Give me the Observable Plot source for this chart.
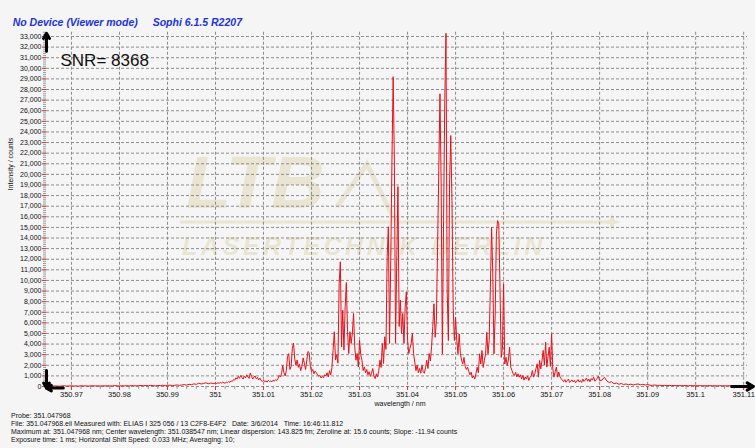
<!DOCTYPE html>
<html><head><meta charset="utf-8">
<script src="https://cdn.jsdelivr.net/npm/d3@7"></script>
<script src="https://cdn.jsdelivr.net/npm/@observablehq/plot@0.6"></script>
<style>
html,body{margin:0;padding:0;background:#f5f5f5;width:755px;height:448px;overflow:hidden;font-family:"Liberation Sans",Arial,sans-serif;}
#wrap{position:relative;width:755px;height:448px;}
#wm{position:absolute;left:0;top:0;width:755px;height:448px;filter:blur(0.7px);}
#title{position:absolute;top:15px;left:0;height:14px;width:755px;color:#2233dd;font-weight:bold;font-style:italic;font-size:10.5px;line-height:14px;white-space:pre;}
#title span{position:absolute;top:0}
#chart{position:absolute;left:0;top:28px;}
#caption{position:absolute;left:11px;top:412px;font-size:7px;line-height:7.9px;white-space:pre;color:#111;}
</style></head>
<body><div id="wrap">
<div id="wm"><svg width="755" height="448" style="position:absolute;left:0;top:0">
<g fill="#e9e5d2" font-family="Liberation Sans, Arial, sans-serif" font-weight="bold" font-style="italic">
<text x="186" y="208" font-size="74">LTB</text>
<text x="182" y="255" font-size="25" letter-spacing="3.6">LASERTECHNIK BERLIN</text>
</g>
<polyline points="337,207 367,164 395,221" fill="none" stroke="#e9e5d2" stroke-width="5"/>
<line x1="180" y1="222" x2="612" y2="222" stroke="#e9e5d2" stroke-width="3"/>
<path d="M612,213 L615,222 L612,231 L609,222 Z M603,222 L612,219 L621,222 L612,225 Z" fill="#e9e5d2"/>
</svg></div>
<div id="title"><span style="left:12.7px"></span><span style="left:152.7px"></span></div>
<div id="chart"></div>
<div id="caption"></div>
</div>
<script>
// ---------- data ----------
const titleParts = ["No Device (Viewer mode)", "Sophi 6.1.5 R2207"];
const snrLabel = "SNR= 8368";
const yTitle = "Intensity / counts";
const xTitle = "wavelength / nm";
const captionLines = [
  "Probe: 351.047968",
  "File: 351.047968.eli Measured with: ELIAS I 325 056 / 13 C2F8-E4F2   Date: 3/6/2014   Time: 16:46:11.812",
  "Maximum at: 351.047968 nm; Center wavelength: 351.038547 nm; Linear dispersion: 143.825 fm; Zeroline at: 15.6 counts; Slope: -11.94 counts",
  "Exposure time: 1 ms; Horizontal Shift Speed: 0.033 MHz; Averaging: 10;"
];

const yTicks = [0,1000,2000,3000,4000,5000,6000,7000,8000,9000,10000,11000,12000,13000,14000,15000,16000,17000,18000,19000,20000,21000,22000,23000,24000,25000,26000,27000,28000,29000,30000,31000,32000,33000];
const xTicks = [350.97,350.98,350.99,351,351.01,351.02,351.03,351.04,351.05,351.06,351.07,351.08,351.09,351.1,351.11];
const xTickLabels = ["350.97","350.98","350.99","351","351.01","351.02","351.03","351.04","351.05","351.06","351.07","351.08","351.09","351.1","351.11"];

// wavelength offsets from 351 nm, in pm
const leftPm = [-34.5,-34,-33.5,-33,-32.5,-32,-31.5,-31,-30.5,-30,
-29.5,-29,-28.5,-28,-27.5,-27,-26.5,-26,-25.5,-25,
-24.5,-24,-23.5,-23,-22.5,-22,-21.5,-21,-20.5,-20,
-19.5,-19,-18.5,-18,-17.5,-17,-16.5,-16,-15.5,-15,
-14.5,-14,-13.5,-13,-12.5,-12,-11.5,-11,-10.5,-10,
-9.5,-9,-8.5,-8,-7.5,-7,-6.5,-6,-5.5,-5,
-4.5,-4,-3.5,-3,-2.5,-2,-1.5,-1,-0.5];
const leftCounts = [50,30,60,40,30,50,70,40,50,60,
40,60,30,70,50,60,40,60,70,50,
60,40,70,50,80,50,60,90,60,50,
70,60,80,50,90,70,60,80,100,70,
90,70,110,80,60,100,80,120,70,90,
130,90,110,150,100,140,180,130,210,170,
250,200,310,240,280,350,260,320,290];

const peakPm = [0,0.25,0.5,0.75,1,1.25,1.5,1.75,2,2.25,2.5,2.75,3,3.25,3.5,3.75,4,4.25,4.5,4.75,
5,5.25,5.5,5.75,6,6.25,6.5,6.75,7,7.25,7.5,7.75,8,8.25,8.5,8.75,9,9.25,9.5,9.75,
10,10.25,10.5,10.75,11,11.25,11.5,11.75,12,12.25,12.5,12.75,13,13.25,13.5,13.75,14,14.25,14.5,14.75,
15,15.25,15.5,15.75,16,16.25,16.5,16.75,17,17.25,17.5,17.75,18,18.25,18.5,18.75,19,19.25,19.5,19.75,
20,20.25,20.5,20.75,21,21.25,21.5,21.75,22,22.25,22.5,22.75,23,23.25,23.5,23.75,24,24.25,24.5,24.75,
25,25.25,25.5,25.75,26,26.25,26.5,26.75,27,27.25,27.5,27.75,28,28.25,28.5,28.75,29,29.25,29.5,29.75,
30,30.25,30.5,30.75,31,31.25,31.5,31.75,32,32.25,32.5,32.75,33,33.25,33.5,33.75,34,34.25,34.5,34.75,
35,35.25,35.5,35.75,36,36.25,36.5,36.75,37,37.25,37.5,37.75,38,38.25,38.5,38.75,39,39.25,39.5,39.75,
40,40.25,40.5,40.75,41,41.25,41.5,41.75,42,42.25,42.5,42.75,43,43.25,43.5,43.75,44,44.25,44.5,44.75,
45,45.25,45.5,45.75,46,46.25,46.5,46.75,47,47.25,47.5,47.75,48,48.25,48.5,48.75,49,49.25,49.5,49.75,
50,50.25,50.5,50.75,51,51.25,51.5,51.75,52,52.25,52.5,52.75,53,53.25,53.5,53.75,54,54.25,54.5,54.75,
55,55.25,55.5,55.75,56,56.25,56.5,56.75,57,57.25,57.5,57.75,58,58.25,58.5,58.75,59,59.25,59.5,59.75,
60,60.25,60.5,60.75,61,61.25,61.5,61.75,62,62.25,62.5,62.75,63,63.25,63.5,63.75,64,64.25,64.5,64.75,
65,65.25,65.5,65.75,66,66.25,66.5,66.75,67,67.25,67.5,67.75,68,68.25,68.5,68.75,69,69.25,69.5,69.75,
70,70.25,70.5,70.75,71,71.25,71.5,71.75,72,72.25,72.5,72.75,73,73.25,73.5,73.75,74,74.25,74.5,74.75,
75,75.25,75.5,75.75,76,76.25,76.5,76.75,77,77.25,77.5,77.75,78,78.25,78.5,78.75,79,79.25,79.5,79.75,
80];
const peakCounts = [
320,280,350,300,380,330,410,360,300,420,380,450,400,
520,480,650,600,820,700,950,780,1050,850,700,980,820,1100,900,760,1270,
950,700,880,1000,720,850,620,780,
560,480,600,450,520,420,580,470,530,440,600,500,640,560,720,
1050,900,1200,2000,1300,1000,1500,2800,3100,1600,1900,3600,
4090,2600,2000,2500,1800,2100,1500,1900,2700,2200,1600,2400,3300,3200,1900,
1400,1600,1200,1450,1300,1100,950,1050,800,950,820,1100,
1000,1300,900,1500,1100,1800,3500,5160,2500,3000,2200,9720,11760,
3740,7200,3430,7500,9800,5200,3110,5160,4060,5000,
6890,3740,2480,3110,1850,4370,3000,2480,1500,1850,
1300,1600,1100,1400,950,1300,1700,1000,750,1200,900,1500,
2480,1800,4060,2170,4690,3500,12230,15060,
4060,11920,21350,29210,21350,4060,11920,18840,5660,
8150,5000,6890,4060,7500,8930,4370,3110,3600,4060,5000,
3110,2300,1500,2000,1300,1700,1250,2000,1400,1250,1800,2480,1700,3110,2400,3740,
5660,7800,4640,6200,13130,20360,27590,18790,3080,15640,26960,33300,9000,
4330,19100,23660,17530,7470,
4330,6520,4330,3080,4950,3080,
2500,2120,2750,1900,1600,1830,1400,1100,1350,800,1000,700,1200,1820,1300,
3080,2120,3390,1800,2440,3080,5110,3080,4330,
9350,15010,10610,3080,6840,14380,15640,15330,9350,
2750,3500,9660,2120,2750,1980,2500,3710,1820,1510,1200,
1040,1350,900,1200,880,1100,700,1040,600,900,700,1000,570,850,1000,
1510,880,1200,1700,2140,880,2460,1670,2450,3400,2000,4180,1830,2800,3710,1900,4970,1670,
880,1400,1830,880,1360,900,730,600,450,650,400,550,700,380,520,620,430,
580,350,500,650,420,560,380,700,480,620,800,500,700,450,750,600,880,500,650,750,980,560];

const tailPm = [80.5,81,81.5,82,82.5,83,83.5,84,84.5,85,
85.5,86,86.5,87,87.5,88,88.5,89,89.5,90,
90.5,91,91.5,92,92.5,93,93.5,94,94.5,95,
95.5,96,96.5,97,97.5,98,98.5,99,99.5,100,
100.5,101,101.5,102,102.5,103,103.5,104,104.5,105,
105.5,106,106.5,107,107.5,108,108.5,109,109.5,110];
const tailCounts = [600,880,520,380,450,260,330,210,280,190,
240,170,220,150,200,240,160,210,140,180,
120,110,140,100,115,90,105,95,85,100,
80,90,85,75,90,80,70,85,75,80,
70,80,75,65,80,70,75,65,70,75,
65,70,60,70,65,60,70,60,65,60];

// ---------- build ----------
function zipSeg(pm, counts, name) {
  if (pm.length !== counts.length) throw new Error(name + " length mismatch " + pm.length + " vs " + counts.length);
  return pm.map((p, i) => ({wl: 351 + p / 1000, counts: counts[i]}));
}
const spectrum = [
  ...zipSeg(leftPm, leftCounts, "left"),
  ...zipSeg(peakPm, peakCounts, "peak"),
  ...zipSeg(tailPm, tailCounts, "tail")
];

const xDomain = [350.9648, 351.1108];
const yDomain = [0, 33400];
const yMinor = d3.range(0, 33401, 200);
const xMinor = d3.range(350.966, 351.1109, 0.002);

const axisArrows = [
  {x1: xDomain[0], y1: 31600, x2: xDomain[0], y2: 33300},
  {x1: 351.1075, y1: 0, x2: 351.11205, y2: 0},
  {x1: xDomain[0], y1: 1500, x2: xDomain[0], y2: -150},
  {x1: 350.9683, y1: -150, x2: xDomain[0], y2: -150}
];

const font = "Liberation Sans, Arial, sans-serif";
const plot = Plot.plot({
  width: 755, height: 380,
  marginLeft: 46, marginRight: 8, marginTop: 3.75, marginBottom: 22,
  style: {background: "transparent", fontFamily: font, fontSize: "7px", color: "#111", overflow: "visible"},
  x: {domain: xDomain},
  y: {domain: yDomain},
  marks: [
    Plot.gridY({ticks: yTicks, stroke: "#8c8c8c", strokeOpacity: 1, strokeDasharray: "3,2"}),
    Plot.gridX({ticks: xTicks, stroke: "#8c8c8c", strokeOpacity: 1, strokeDasharray: "3,2"}),
    Plot.axisY({ticks: yMinor, tickSize: 3, tickFormat: () => "", stroke: "#9a9a9a", label: null}),
    Plot.axisY({ticks: yTicks, tickSize: 4, tickPadding: 1, stroke: "#e03030", color: "#111", tickFormat: d3.format(","), label: null, fontSize: 7}),
    Plot.axisX({ticks: xMinor, tickSize: 3, tickFormat: () => "", stroke: "#9a9a9a", label: null}),
    Plot.axisX({ticks: xTicks, tickSize: 4, tickPadding: 1.5, stroke: "#e03030", color: "#111", label: null, fontSize: 7.5,
      tickFormat: d => xTickLabels[xTicks.findIndex(t => Math.abs(t - d) < 1e-9)]}),
    Plot.line(spectrum, {x: "wl", y: "counts", stroke: "#e8101a", strokeWidth: 1}),
    Plot.arrow(axisArrows, {x1: "x1", y1: "y1", x2: "x2", y2: "y2", stroke: "#000", strokeWidth: 3, headLength: 7}),
    Plot.text([snrLabel], {text: d => d, frameAnchor: "top-left", dx: 14, dy: 22, fontSize: 17, textAnchor: "start", fill: "#111"}),
    Plot.text([yTitle], {text: d => d, frameAnchor: "left", rotate: -90, dx: -36, dy: -19, fontSize: 7, fill: "#111"}),
    Plot.text([xTitle], {text: d => d, frameAnchor: "bottom", dx: 3, dy: 19.5, fontSize: 7, fill: "#111"})
  ]
});
document.getElementById("chart").appendChild(plot);
const spans = document.querySelectorAll("#title span");
spans[0].textContent = titleParts[0];
spans[1].textContent = titleParts[1];
document.getElementById("caption").textContent = captionLines.join("\n");
</script>
</body></html>
